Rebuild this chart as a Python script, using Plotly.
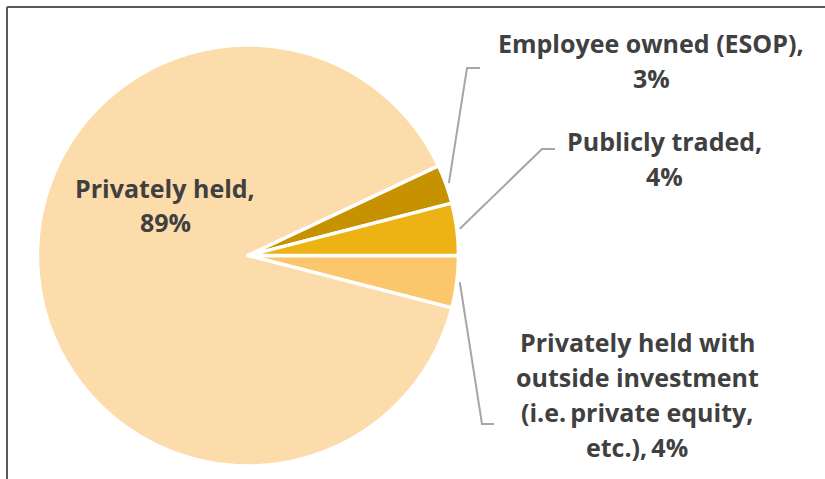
import math
import plotly.graph_objects as go

# Ownership structure shares (percent), listed clockwise from 3 o'clock
labels = [
    "Privately held with outside investment (i.e. private equity, etc.)",
    "Privately held",
    "Employee owned (ESOP)",
    "Publicly traded",
]
values = [4, 89, 3, 4]
colors = ["#FCC66C", "#FBDCAA", "#C69200", "#EDB214"]

# Label texts: the value is appended from the data
label_lines = [
    ["Privately held with", "outside investment", "(i.e.\u2009private equity,", "etc.),\u2009{v}%"],
    ["Privately held,", "{v}%"],
    ["Employee owned (ESOP),", "{v}%"],
    ["Publicly traded,", "{v}%"],
]

W, H = 825, 479
# pie placement in pixels
PIE_LEFT, PIE_RIGHT, PIE_TOP, PIE_BOTTOM = 37, 459, 45, 466
cx = (PIE_LEFT + PIE_RIGHT) / 2
cy = (PIE_TOP + PIE_BOTTOM) / 2
radius = min(PIE_RIGHT - PIE_LEFT, PIE_BOTTOM - PIE_TOP) / 2

# label anchors (pixel centre x, centre y of first line, line step) and leader-line elbows
label_pos = [(637, 342, 35), (165, 188, 34), (651, 43, 35), (664, 141, 35)]
elbows = [((482, 424), (494, 424)), None, ((467, 68), (480, 68)), ((542, 149), (555, 149))]

TEXT = "#404040"
FONT = "Open Sans"


def px(x):
    return x / W


def py(y):
    return 1 - y / H


fig = go.Figure(
    go.Pie(
        labels=labels,
        values=values,
        sort=False,
        direction="clockwise",
        rotation=90,
        marker=dict(colors=colors, line=dict(color="white", width=3.5)),
        textinfo="none",
        hoverinfo="label+percent",
        domain=dict(x=[px(PIE_LEFT), px(PIE_RIGHT)], y=[py(PIE_BOTTOM), py(PIE_TOP)]),
        showlegend=False,
    )
)

annotations = []
shapes = []
total = sum(values)
cum = 0
for i, v in enumerate(values):
    mid = (cum + v / 2) / total
    cum += v
    lx, ly, step = label_pos[i]
    for k, line in enumerate(label_lines[i]):
        annotations.append(
            dict(
                x=px(lx), y=py(ly + k * step), xref="paper", yref="paper",
                text=line.format(v=v), showarrow=False, align="center",
                xanchor="center", yanchor="middle",
                font=dict(family=FONT, size=25, color=TEXT, weight=700),
            )
        )
    if elbows[i] is not None:
        theta = 2 * math.pi * mid
        sx = cx + (radius + 3) * math.cos(theta)
        sy = cy + (radius + 3) * math.sin(theta)
        (ex, ey), (tx, ty) = elbows[i]
        path = f"M {px(sx)},{py(sy)} L {px(ex)},{py(ey)} L {px(tx)},{py(ty)}"
        shapes.append(
            dict(type="path", path=path, xref="paper", yref="paper",
                 line=dict(color="#A6A6A6", width=2))
        )

# frame lines along the top and left edges
shapes.append(dict(type="line", xref="paper", yref="paper",
                   x0=px(7), y0=py(7), x1=1, y1=py(7),
                   line=dict(color="#595959", width=2)))
shapes.append(dict(type="line", xref="paper", yref="paper",
                   x0=px(7), y0=py(7), x1=px(7), y1=0,
                   line=dict(color="#595959", width=2)))

fig.update_layout(
    width=W, height=H,
    margin=dict(l=0, r=0, t=0, b=0),
    paper_bgcolor="white",
    plot_bgcolor="white",
    annotations=annotations,
    shapes=shapes,
)

fig.write_html("out.html")
